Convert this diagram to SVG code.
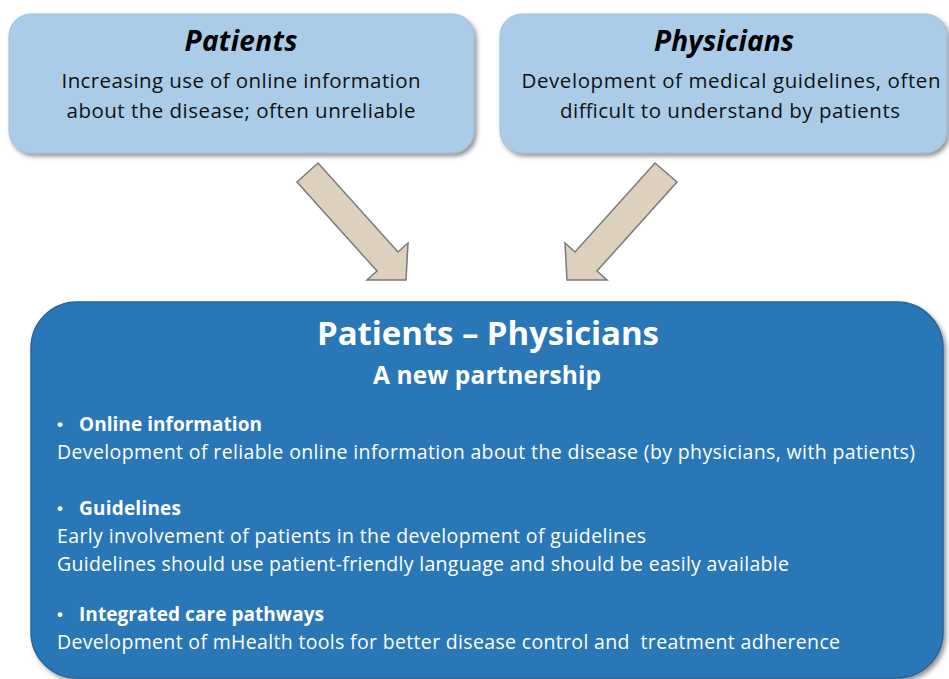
<svg xmlns="http://www.w3.org/2000/svg" width="949" height="679" viewBox="0 0 949 679">
<defs>
<filter id="sh" x="-5%" y="-5%" width="112%" height="120%">
<feDropShadow dx="2.5" dy="3" stdDeviation="2" flood-color="#404040" flood-opacity="0.55"/>
</filter>
<style>
.top{fill:#abcce8;stroke:#9dbfdc;stroke-width:1;filter:url(#sh)}
.big{fill:#2b77b8;stroke:#25659c;stroke-width:1.5;filter:url(#sh)}
.arr{fill:#ddd1bd;stroke:#7a7a7a;stroke-width:1.5;stroke-linejoin:miter}
.t{font-family:"Open Sans","Liberation Sans",sans-serif}
.h{font-size:28px;font-weight:700;font-style:italic;fill:#000;text-anchor:middle}
.d{font-size:20.5px;fill:#111;text-anchor:middle}
.w{fill:#fff}
.h1{font-size:33px;font-weight:700;text-anchor:middle}
.h2{font-size:24.5px;font-weight:700;text-anchor:middle}
.b{font-size:19px;font-weight:700}
.n{font-size:19.5px}
.dot{font-size:17px;font-weight:700;font-family:"Liberation Sans",sans-serif}
</style>
</defs>
<g id="patients">
<rect class="top" x="9" y="14" width="465" height="139" rx="22"/>
<text class="t h" x="241" y="51" textLength="113" lengthAdjust="spacing">Patients</text>
<text class="t d" x="241" y="88" textLength="359" lengthAdjust="spacing">Increasing use of online information</text>
<text class="t d" x="241" y="118" textLength="349" lengthAdjust="spacing">about the disease; often unreliable</text>
</g>
<g id="physicians">
<rect class="top" x="500" y="14" width="447" height="139" rx="22"/>
<text class="t h" x="724" y="51" textLength="140" lengthAdjust="spacing">Physicians</text>
<text class="t d" x="731" y="88" textLength="419" lengthAdjust="spacing">Development of medical guidelines, often</text>
<text class="t d" x="730" y="118" textLength="340" lengthAdjust="spacing">difficult to understand by patients</text>
</g>
<g id="connectors">
<polygon class="arr" points="318,163 398,252 408,243 406,280 367,280 377,271 297,182"/>
<polygon class="arr" points="655,163 677,182 597,271 607,280 567,280 565,243 575,252"/>
</g>
<g id="partnership">
<rect class="big" x="31" y="302" width="912" height="376" rx="46"/>
<text class="t w h1" x="488" y="345" textLength="342" lengthAdjust="spacing">Patients – Physicians</text>
<text class="t w h2" x="487" y="384" textLength="228" lengthAdjust="spacing">A new partnership</text>
<text class="w dot" x="57" y="430">•</text>
<text class="t w b" x="79" y="431" textLength="183" lengthAdjust="spacing">Online information</text>
<text class="t w n" x="57" y="459" textLength="858" lengthAdjust="spacing">Development of reliable online information about the disease (by physicians, with patients)</text>
<text class="w dot" x="57" y="514">•</text>
<text class="t w b" x="79" y="515" textLength="102" lengthAdjust="spacing">Guidelines</text>
<text class="t w n" x="57" y="543" textLength="589" lengthAdjust="spacing">Early involvement of patients in the development of guidelines</text>
<text class="t w n" x="57" y="571" textLength="732" lengthAdjust="spacing">Guidelines should use patient-friendly language and should be easily available</text>
<text class="w dot" x="57" y="620">•</text>
<text class="t w b" x="79" y="621" textLength="245" lengthAdjust="spacing">Integrated care pathways</text>
<text class="t w n" x="57" y="649" textLength="783" lengthAdjust="spacing" xml:space="preserve">Development of mHealth tools for better disease control and  treatment adherence</text>
</g>
</svg>
